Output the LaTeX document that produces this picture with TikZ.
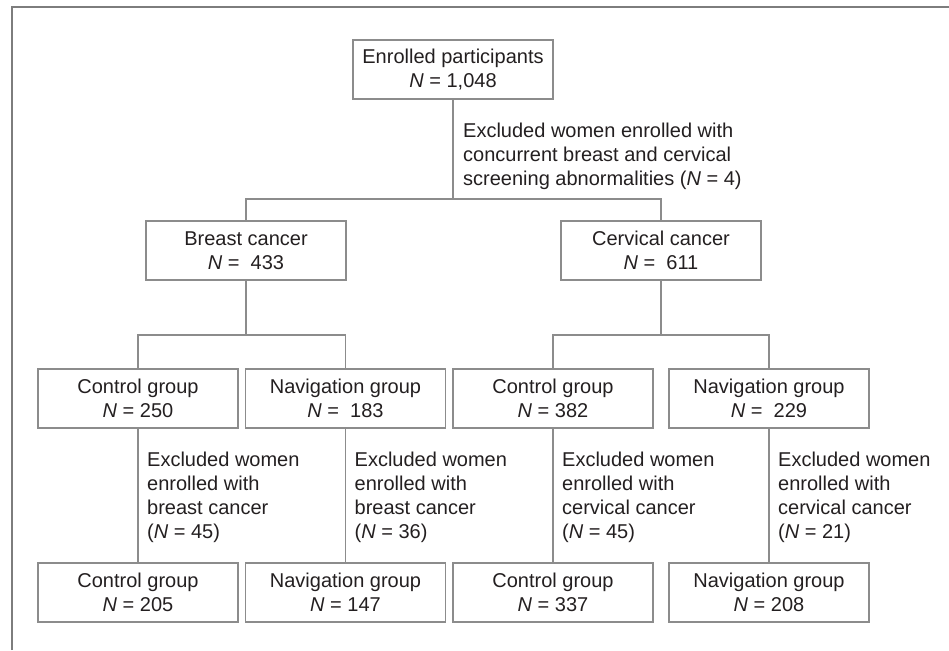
\documentclass[tikz,border=0pt]{standalone}
\usepackage{fontspec}
\setmainfont{Liberation Sans}
\definecolor{linie}{RGB}{140,140,140}
\definecolor{rahmen}{RGB}{125,125,125}
\definecolor{schrift}{RGB}{35,31,32}
\tikzset{
    kasten/.style={draw=linie, line width=1.3pt, minimum width=200pt, minimum height=59pt, inner sep=0pt, align=center, text=schrift},
    verb/.style={draw=linie, line width=1.3pt},
    notiz/.style={anchor=north west, inner sep=0pt, align=left, text=schrift}
}

\begin{document}
\begin{tikzpicture}[x=1pt, y=-1pt, font=\fontsize{20}{24}\selectfont]
    \useasboundingbox (0,0) rectangle (949,650);
    % Rahmen
    \draw[rahmen, line width=2pt] (12,650) -- (12,7) -- (949,7);

    % Obere Ebene
    \node[kasten] (root) at (453,69.5) {Enrolled participants\\\textit{N} = 1,048};
    \node[kasten] (breast) at (246,250.5) {Breast cancer\\\textit{N} = \ 433};
    \node[kasten] (cervix) at (661,250.5) {Cervical cancer\\\textit{N} = \ 611};
    \coordinate (s0) at (453,199);
    \draw[verb] (root) -- (s0);
    \draw[verb] (breast.north) |- (s0) -| (cervix.north);
    \node[notiz] (ex0) at (463,123) {Excluded women enrolled with\\concurrent breast and cervical\\screening abnormalities (\textit{N} = 4)};

    % Gruppen
    \foreach \i/\x/\gruppe/\nA/\nB/\anz/\art in {1/138/Control/250/205/45/breast, 2/345.5/Navigation/\ 183/147/36/breast, 3/553/Control/382/337/45/cervical, 4/769/Navigation/\ 229/208/21/cervical} {
        \node[kasten] (g\i) at (\x,398.5) {\gruppe\ group\\\textit{N} = \nA};
        \node[kasten] (h\i) at (\x,592.5) {\gruppe\ group\\\textit{N} = \nB};
        \draw[verb] (g\i) -- (h\i);
        \node[notiz] (ex\i) at (\x+9,452) {Excluded women\\enrolled with\\\art\ cancer\\(\textit{N} = \anz)};
    }

    % Verzweigungen
    \coordinate (s1) at (246,335);
    \coordinate (s2) at (661,335);
    \draw[verb] (breast) -- (s1);
    \draw[verb] (g1.north) |- (s1) -| (g2.north);
    \draw[verb] (cervix) -- (s2);
    \draw[verb] (g3.north) |- (s2) -| (g4.north);
\end{tikzpicture}
\end{document}
